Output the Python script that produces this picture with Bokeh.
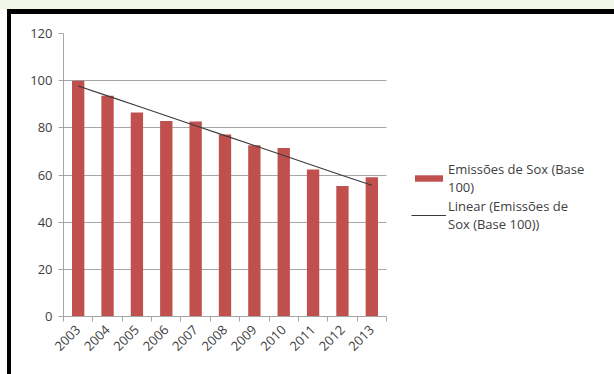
import numpy as np
from bokeh.plotting import figure
from bokeh.layouts import column
from bokeh.models import ColumnDataSource, FixedTicker, Legend, LegendItem, Grid
from bokeh.embed import file_html
from bokeh.resources import INLINE

years = ["2003", "2004", "2005", "2006", "2007", "2008", "2009", "2010",
         "2011", "2012", "2013"]
emissions = [100.0, 93.6, 86.5, 82.9, 82.7, 77.2, 72.6, 71.5, 62.3, 55.3, 59.0]
y_ticks = [0, 20, 40, 60, 80, 100, 120]
series_label = "Emiss\u00f5es de Sox (Base\n100)"
trend_label = "Linear (Emiss\u00f5es de\nSox (Base 100))"

n = len(years)
xpos = np.arange(n) + 0.5
coef = np.polyfit(np.arange(n), emissions, 1)
trend = np.polyval(coef, np.arange(n))

src = ColumnDataSource(dict(x=xpos, y=emissions, t=trend))

FONT = "Open Sans"
TXT = "#404040"
GRID = "#a6a6a6"

# canvas ends up 4px wider / 5px taller than width/height (border added)
FIG_W, FIG_H = 603, 360
CANVAS_W = FIG_W + 4
LEFT, RIGHT, TOP, BOTTOM = 52, 8, 19, 63
frame_w = CANVAS_W - LEFT - RIGHT
x_end = n * frame_w / 323.0

p = figure(width=FIG_W, height=FIG_H, output_backend="svg",
           toolbar_location=None,
           x_range=(0, x_end), y_range=(0, 120),
           min_border_left=LEFT, min_border_right=RIGHT, min_border_top=TOP,
           min_border_bottom=BOTTOM)
p.background_fill_color = "white"
p.border_fill_color = "white"
p.outline_line_color = None
p.margin = (9, 0, 0, 7)
p.styles = {"border-top": "5px solid black", "border-left": "4px solid black",
            "box-sizing": "content-box"}

bars = p.vbar(x="x", top="y", width=0.42, source=src, fill_color="#c0504d",
              line_color=None)
line = p.line(x="x", y="t", source=src, line_color="#3a3a3a", line_width=1.1)

# axes
p.xaxis.bounds = (0, n)
p.xaxis.ticker = FixedTicker(ticks=list(xpos), minor_ticks=list(range(n + 1)))
p.xaxis.major_label_overrides = {float(x): y for x, y in zip(xpos, years)}
p.xaxis.major_label_orientation = np.pi / 4
p.xaxis.major_tick_out = 0
p.xaxis.major_tick_in = 0
p.xaxis.minor_tick_out = 5
p.xaxis.minor_tick_in = 0
p.xaxis.minor_tick_line_color = GRID
p.xaxis.axis_line_color = GRID

p.yaxis.ticker = FixedTicker(ticks=y_ticks)
p.yaxis.major_tick_out = 5
p.yaxis.major_tick_in = 0
p.yaxis.minor_tick_line_color = None
p.yaxis.major_tick_line_color = GRID
p.yaxis.axis_line_color = GRID

for ax in (p.xaxis, p.yaxis):
    ax.major_label_text_font = FONT
    ax.major_label_text_font_size = "13px"
    ax.major_label_text_color = TXT
    ax.major_label_standoff = 6

p.xgrid.grid_line_color = None
if "cross_bounds" in Grid.properties():
    p.ygrid.ticker = FixedTicker(ticks=y_ticks)
    p.ygrid.cross_bounds = (0, n)
    p.ygrid.grid_line_color = GRID
    p.ygrid.level = "underlay"
else:
    p.ygrid.grid_line_color = None
    p.segment(x0=[0] * len(y_ticks), x1=[n] * len(y_ticks), y0=y_ticks,
              y1=y_ticks, line_color=GRID, line_width=1, level="underlay")

legend = Legend(items=[LegendItem(label=series_label, renderers=[bars]),
                       LegendItem(label=trend_label, renderers=[line])],
                location=(348, 83), orientation="vertical")
legend.border_line_color = None
legend.background_fill_alpha = 0
legend.padding = 0
legend.margin = 0
legend.spacing = 1
legend.glyph_width = 35
legend.glyph_height = 8
legend.label_standoff = 2
legend.label_text_font = FONT
legend.label_text_font_size = "13px"
legend.label_text_color = TXT
legend.label_text_line_height = 2.0
p.add_layout(legend, "center")

page = column(p, styles={
    "background": "linear-gradient(to bottom, #f2f6e6 0px, #f2f6e6 9px, #ffffff 9px)"})

open("out.html", "w").write(file_html(page, INLINE))
